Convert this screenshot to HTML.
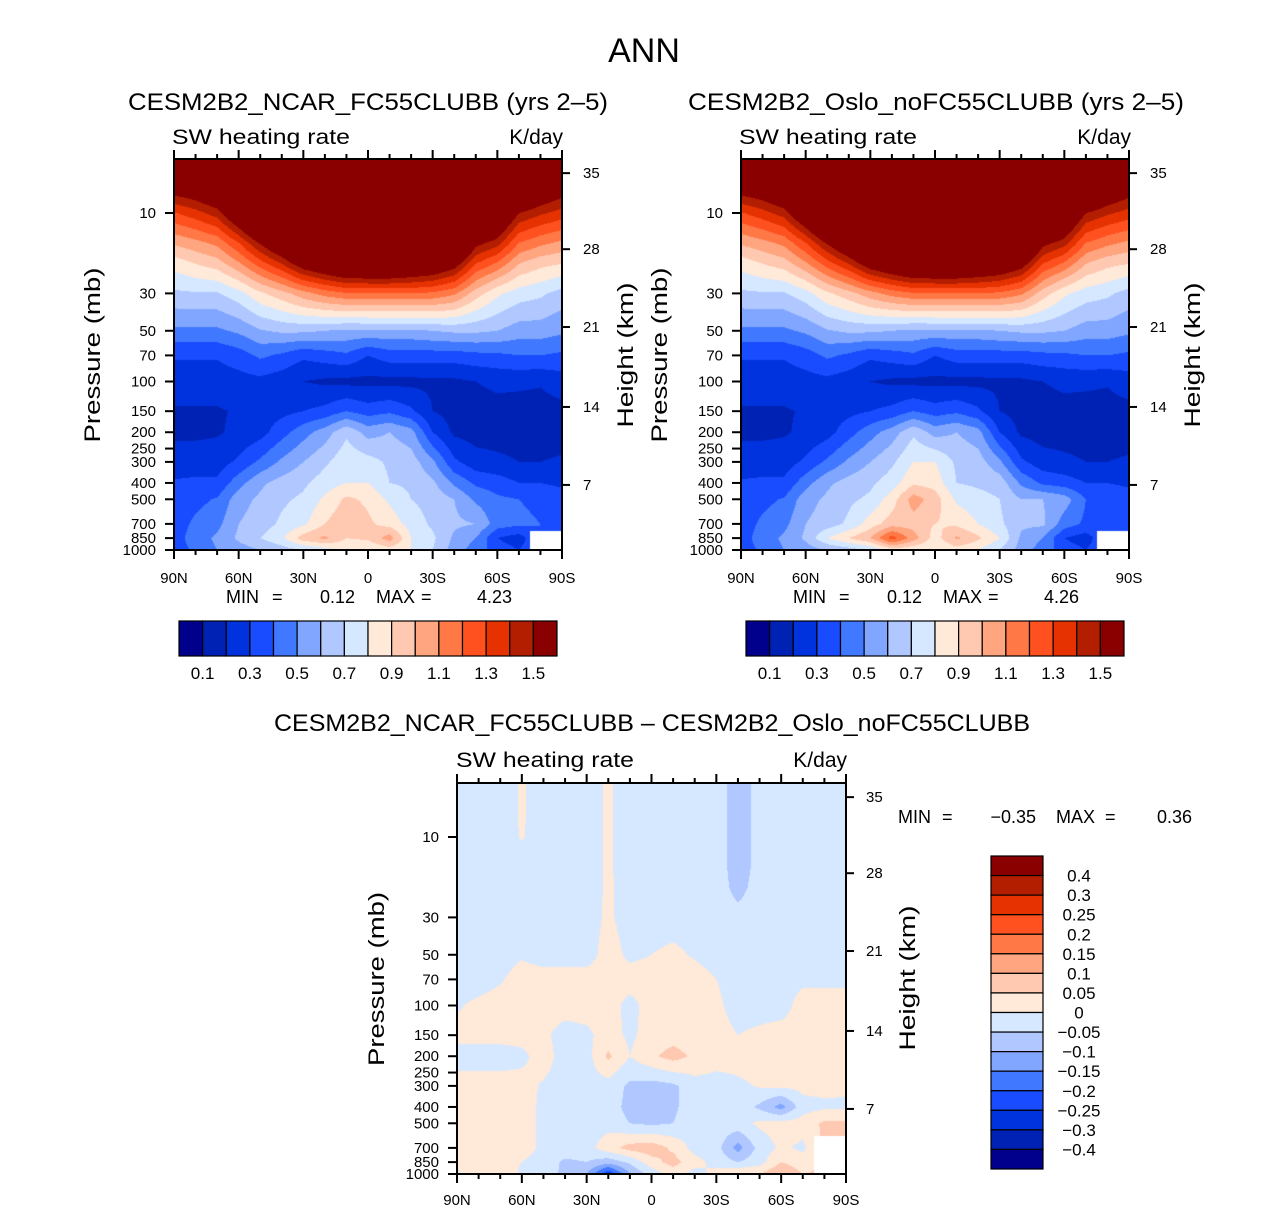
<!DOCTYPE html>
<html><head><meta charset="utf-8"><style>
html,body{margin:0;padding:0;background:#fff;}
#wrap{position:relative;width:1285px;height:1211px;overflow:hidden;}
canvas{position:absolute;}
svg{position:absolute;left:0;top:0;}
text{font-family:"Liberation Sans",sans-serif;fill:#000;}
</style></head><body>
<div id="wrap">
<canvas id="c1" style="left:174px;top:159px" width="388" height="391"></canvas>
<canvas id="c2" style="left:741px;top:159px" width="388" height="391"></canvas>
<canvas id="c3" style="left:457px;top:783px" width="389" height="391"></canvas>
<svg id="s" width="1285" height="1211">
<text x="644" y="62" font-size="34" text-anchor="middle">ANN</text>
<text x="128" y="110" font-size="24" textLength="480" lengthAdjust="spacingAndGlyphs">CESM2B2_NCAR_FC55CLUBB (yrs 2–5)</text>
<text x="172" y="144" font-size="21" textLength="178" lengthAdjust="spacingAndGlyphs">SW heating rate</text>
<text x="563" y="144" font-size="21" text-anchor="end">K/day</text>
<text x="688" y="110" font-size="24" textLength="496" lengthAdjust="spacingAndGlyphs">CESM2B2_Oslo_noFC55CLUBB (yrs 2–5)</text>
<text x="739" y="144" font-size="21" textLength="178" lengthAdjust="spacingAndGlyphs">SW heating rate</text>
<text x="1131" y="144" font-size="21" text-anchor="end">K/day</text>
<text x="274" y="731" font-size="24" textLength="756" lengthAdjust="spacingAndGlyphs">CESM2B2_NCAR_FC55CLUBB – CESM2B2_Oslo_noFC55CLUBB</text>
<text x="456" y="767" font-size="21" textLength="178" lengthAdjust="spacingAndGlyphs">SW heating rate</text>
<text x="847" y="767" font-size="21" text-anchor="end">K/day</text>

<text transform="translate(100,355) rotate(-90)" font-size="22" text-anchor="middle" textLength="175" lengthAdjust="spacingAndGlyphs">Pressure (mb)</text>
<text transform="translate(633,355) rotate(-90)" font-size="22" text-anchor="middle" textLength="145" lengthAdjust="spacingAndGlyphs">Height (km)</text>
<text transform="translate(667,355) rotate(-90)" font-size="22" text-anchor="middle" textLength="175" lengthAdjust="spacingAndGlyphs">Pressure (mb)</text>
<text transform="translate(1200,355) rotate(-90)" font-size="22" text-anchor="middle" textLength="145" lengthAdjust="spacingAndGlyphs">Height (km)</text>
<text transform="translate(384,979) rotate(-90)" font-size="22" text-anchor="middle" textLength="174" lengthAdjust="spacingAndGlyphs">Pressure (mb)</text>
<text transform="translate(915,978) rotate(-90)" font-size="22" text-anchor="middle" textLength="145" lengthAdjust="spacingAndGlyphs">Height (km)</text>

<g font-size="18">
<text x="226" y="603">MIN</text><text x="272" y="603">=</text><text x="355" y="603" text-anchor="end">0.12</text>
<text x="376" y="603">MAX</text><text x="421" y="603">=</text><text x="512" y="603" text-anchor="end">4.23</text></g>
<g font-size="18">
<text x="793" y="603">MIN</text><text x="839" y="603">=</text><text x="922" y="603" text-anchor="end">0.12</text>
<text x="943" y="603">MAX</text><text x="988" y="603">=</text><text x="1079" y="603" text-anchor="end">4.26</text></g>
<g font-size="18">
<text x="898" y="823">MIN</text><text x="942" y="823">=</text><text x="1036" y="823" text-anchor="end">−0.35</text>
<text x="1056" y="823">MAX</text><text x="1105" y="823">=</text><text x="1192" y="823" text-anchor="end">0.36</text></g>
<g id="g"></g>
</svg>
</div>
<script>
const palette = ["#00008c","#0022b4","#0033dd","#1a4cff","#4078ff","#80a6ff","#b0c8ff","#d6e8ff","#ffe9d8","#ffc8b0","#ffa580","#ff7846","#ff5020","#e63200","#b41e00","#8a0000"];
const levelsAbs = [0.1,0.2,0.3,0.4,0.5,0.6,0.7,0.8,0.9,1.0,1.1,1.2,1.3,1.4,1.5];
const levelsDiff = [-0.4,-0.3,-0.25,-0.2,-0.15,-0.1,-0.05,0,0.05,0.1,0.15,0.2,0.25,0.3,0.4];
const absTickLabels = ["0.1","0.3","0.5","0.7","0.9","1.1","1.3","1.5"];
const diffTickLabels = ["0.4","0.3","0.25","0.2","0.15","0.1","0.05","0","−0.05","−0.1","−0.15","−0.2","−0.25","−0.3","−0.4"];
const lats = [90,80,70,60,50,40,30,20,10,0,-10,-20,-30,-40,-50,-60,-70,-80,-90];
const latTicks = [90,60,30,0,-30,-60,-90];
const latTickLabels = ["90N","60N","30N","0","30S","60S","90S"];
const presLevels = [5,7,10,15,20,30,50,70,100,150,200,300,400,500,700,850,1000];
const presTicks = [10,30,50,70,100,150,200,250,300,400,500,700,850,1000];
const heightTickLabels = ["35","28","21","14","7"];
const heightTickPress = [5.8,16.4,47.5,141.6,411];

const ncarByLat = [
[2.4,1.6,1.29,1.02,0.84,0.68,0.48,0.31,0.25,0.19,0.18,0.25,0.31,0.33,0.35,0.35,0.35],
[2.5,1.65,1.36,1.07,0.9,0.69,0.48,0.31,0.25,0.19,0.18,0.25,0.32,0.37,0.42,0.45,0.42],
[2.6,1.75,1.45,1.13,0.95,0.69,0.48,0.31,0.25,0.19,0.19,0.25,0.32,0.41,0.47,0.52,0.5],
[2.9,2.1,1.7,1.3,1.08,0.76,0.52,0.35,0.26,0.21,0.22,0.32,0.46,0.56,0.6,0.62,0.55],
[3.2,2.5,2.0,1.52,1.25,0.88,0.59,0.42,0.27,0.25,0.26,0.42,0.58,0.62,0.65,0.7,0.6],
[3.4,2.7,2.2,1.72,1.4,0.96,0.62,0.38,0.24,0.27,0.36,0.52,0.64,0.68,0.72,0.78,0.65],
[3.7,3.0,2.5,1.95,1.6,1.06,0.62,0.32,0.2,0.3,0.46,0.6,0.68,0.72,0.78,0.95,0.7],
[3.9,3.2,2.7,2.1,1.7,1.14,0.6,0.35,0.18,0.33,0.55,0.68,0.75,0.82,0.9,1.02,0.75],
[4.1,3.4,2.9,2.2,1.8,1.19,0.58,0.38,0.17,0.4,0.68,0.77,0.8,0.92,0.98,0.9,0.82],
[4.2,3.5,3.0,2.3,1.8,1.2,0.58,0.3,0.17,0.35,0.56,0.74,0.8,0.88,0.92,0.92,0.8],
[4.2,3.5,3.0,2.3,1.8,1.2,0.58,0.35,0.17,0.38,0.6,0.68,0.7,0.78,0.86,1.05,0.85],
[4.1,3.4,2.9,2.2,1.75,1.2,0.58,0.35,0.17,0.32,0.54,0.65,0.68,0.7,0.76,0.8,0.8],
[4.0,3.3,2.8,2.1,1.7,1.18,0.6,0.35,0.18,0.2,0.3,0.52,0.62,0.66,0.68,0.72,0.7],
[3.8,3.1,2.6,1.95,1.58,1.12,0.62,0.35,0.18,0.16,0.18,0.32,0.48,0.6,0.62,0.58,0.55],
[3.4,2.7,2.2,1.55,1.3,0.95,0.62,0.37,0.2,0.16,0.16,0.24,0.38,0.48,0.6,0.5,0.45],
[3.0,2.3,1.8,1.45,1.18,0.82,0.6,0.38,0.22,0.17,0.16,0.22,0.35,0.42,0.45,0.3,0.35],
[2.4,1.9,1.5,1.2,1.0,0.75,0.55,0.4,0.22,0.16,0.16,0.2,0.3,0.4,0.42,0.25,0.3],
[2.2,1.7,1.42,1.13,0.93,0.72,0.55,0.4,0.21,0.16,0.16,0.2,0.3,0.38,0.4,null,null],
[2.0,1.6,1.36,1.08,0.9,0.66,0.52,0.38,0.25,0.17,0.17,0.21,0.28,0.35,0.38,null,null]];

const osloByLat = [
[2.4,1.6,1.29,1.02,0.84,0.68,0.48,0.31,0.25,0.19,0.18,0.25,0.31,0.33,0.35,0.35,0.35],
[2.5,1.65,1.36,1.07,0.9,0.69,0.48,0.31,0.25,0.19,0.18,0.25,0.32,0.37,0.42,0.45,0.42],
[2.6,1.75,1.45,1.13,0.95,0.69,0.48,0.31,0.25,0.19,0.19,0.25,0.32,0.41,0.47,0.52,0.5],
[2.9,2.1,1.7,1.3,1.08,0.76,0.52,0.35,0.26,0.21,0.22,0.32,0.46,0.56,0.6,0.62,0.55],
[3.2,2.5,2.0,1.52,1.25,0.88,0.59,0.42,0.27,0.25,0.26,0.42,0.58,0.62,0.65,0.8,0.6],
[3.4,2.7,2.2,1.72,1.4,0.96,0.62,0.38,0.24,0.27,0.36,0.52,0.64,0.68,0.72,0.9,0.65],
[3.7,3.0,2.5,1.95,1.6,1.06,0.62,0.32,0.2,0.3,0.46,0.6,0.68,0.72,0.85,1.0,0.7],
[3.9,3.2,2.7,2.1,1.7,1.14,0.6,0.35,0.18,0.33,0.55,0.68,0.75,0.85,0.95,1.25,0.85],
[4.1,3.4,2.9,2.2,1.8,1.19,0.58,0.38,0.17,0.4,0.68,0.8,0.88,1.05,0.95,1.05,0.82],
[4.2,3.5,3.0,2.3,1.8,1.2,0.58,0.3,0.17,0.35,0.56,0.8,0.86,0.95,0.9,0.85,0.8],
[4.2,3.5,3.0,2.3,1.8,1.2,0.58,0.35,0.17,0.38,0.6,0.68,0.7,0.78,0.88,1.02,0.85],
[4.1,3.4,2.9,2.2,1.75,1.2,0.58,0.35,0.17,0.32,0.54,0.65,0.68,0.74,0.8,0.92,0.8],
[4.0,3.3,2.8,2.1,1.7,1.18,0.6,0.35,0.18,0.2,0.3,0.52,0.66,0.7,0.72,0.8,0.7],
[3.8,3.1,2.6,1.95,1.58,1.12,0.62,0.35,0.18,0.16,0.18,0.32,0.48,0.6,0.62,0.58,0.55],
[3.4,2.7,2.2,1.55,1.3,0.95,0.62,0.37,0.2,0.16,0.16,0.24,0.38,0.6,0.62,0.5,0.45],
[3.0,2.3,1.8,1.45,1.18,0.82,0.6,0.38,0.22,0.17,0.16,0.22,0.35,0.55,0.45,0.3,0.35],
[2.4,1.9,1.5,1.2,1.0,0.75,0.55,0.4,0.22,0.16,0.16,0.2,0.3,0.4,0.38,0.25,0.3],
[2.2,1.7,1.42,1.13,0.93,0.72,0.55,0.4,0.21,0.16,0.16,0.2,0.3,0.38,0.4,null,null],
[2.0,1.6,1.36,1.08,0.9,0.66,0.52,0.38,0.25,0.17,0.17,0.21,0.28,0.35,0.38,null,null]];

const diffByLev = [
[-0.02,-0.02,-0.02,0.005,-0.02,-0.02,-0.02,0.006,-0.02,-0.02,-0.02,-0.02,-0.02,-0.08,-0.03,-0.04,-0.02,-0.02,-0.02],
[-0.02,-0.02,-0.02,0.005,-0.02,-0.02,-0.02,0.006,-0.02,-0.02,-0.02,-0.02,-0.02,-0.08,-0.03,-0.04,-0.02,-0.02,-0.02],
[-0.02,-0.02,-0.02,0.003,-0.02,-0.02,-0.02,0.006,-0.02,-0.02,-0.02,-0.02,-0.02,-0.08,-0.03,-0.02,-0.02,-0.02,-0.02],
[-0.02,-0.02,-0.02,-0.02,-0.02,-0.02,-0.02,0.006,-0.02,-0.02,-0.02,-0.02,-0.02,-0.08,-0.03,-0.02,-0.02,-0.02,-0.02],
[-0.02,-0.02,-0.02,-0.02,-0.02,-0.02,-0.02,0.007,-0.02,-0.02,-0.02,-0.02,-0.02,-0.07,-0.025,-0.02,-0.02,-0.02,-0.02],
[-0.02,-0.02,-0.02,-0.02,-0.02,-0.02,-0.02,0.008,-0.02,-0.02,-0.02,-0.02,-0.02,-0.03,-0.02,-0.02,-0.02,-0.02,-0.02],
[-0.02,-0.02,-0.02,-0.005,-0.02,-0.02,-0.02,0.02,-0.01,0.0,0.01,-0.005,-0.02,-0.02,-0.02,-0.02,-0.02,-0.02,-0.02],
[-0.02,-0.02,-0.005,0.02,0.02,0.02,0.02,0.02,0.02,0.02,0.02,0.02,0.0,-0.02,-0.02,-0.02,-0.01,-0.01,-0.01],
[-0.005,0.01,0.02,0.02,0.02,0.02,0.02,0.02,-0.015,0.02,0.02,0.02,0.01,-0.02,-0.02,-0.02,0.02,0.02,0.02],
[0.015,0.015,0.015,0.015,0.01,-0.02,-0.01,0.02,-0.01,0.02,0.03,0.02,0.02,0.0,0.01,0.02,0.02,0.02,0.02],
[-0.02,-0.02,-0.02,-0.01,0.02,-0.02,-0.02,0.06,0.0,0.04,0.07,0.04,0.02,0.02,0.02,0.02,0.02,0.02,0.02],
[0.02,0.02,0.02,0.015,-0.005,-0.02,-0.02,-0.02,-0.06,-0.07,-0.06,-0.02,-0.02,-0.01,0.005,0.01,0.015,0.015,0.01],
[0.02,0.02,0.02,0.02,-0.01,-0.02,-0.02,-0.02,-0.07,-0.07,-0.06,-0.02,-0.02,-0.02,-0.06,-0.12,-0.02,-0.01,-0.01],
[0.02,0.02,0.02,0.02,-0.01,-0.02,-0.02,-0.02,-0.05,-0.06,-0.05,-0.02,-0.02,-0.02,0.01,0.02,0.02,0.06,0.06],
[0.02,0.02,0.02,0.02,-0.01,-0.02,-0.02,0.03,0.07,0.08,0.04,-0.02,-0.03,-0.12,-0.03,0.01,-0.01,null,null],
[0.01,0.02,0.02,0.0,-0.02,-0.06,-0.05,-0.08,-0.04,0.03,0.07,0.02,-0.02,-0.05,-0.02,0.05,0.02,null,null],
[-0.01,0.05,0.04,-0.01,-0.03,-0.06,-0.1,-0.25,-0.1,-0.03,0.02,-0.02,0.02,0.05,0.05,0.1,0.05,null,null]];

const NS='http://www.w3.org/2000/svg';
const G=document.getElementById('g');
function mk(tag,attrs,parent){const e=document.createElementNS(NS,tag);for(const k in attrs)e.setAttribute(k,attrs[k]);(parent||G).appendChild(e);return e;}

const PXDEC=168.5;
function yScale(p,bottom){return bottom-(3-Math.log10(p))*PXDEC;}
function xScale(lat,left,w){return left+(90-lat)/180*w;}
function colorIdx(v,levels){let k=0;for(const L of levels){if(v>=L)k++;}return k;}

function render(canvasId,left,top,w,h,get,levels){
  const cv=document.getElementById(canvasId),ctx=cv.getContext('2d');
  const img=ctx.createImageData(w,h);const bottom=top+h;
  const lp=presLevels.map(p=>Math.log10(p));
  const rgb=palette.map(c=>[parseInt(c.substr(1,2),16),parseInt(c.substr(3,2),16),parseInt(c.substr(5,2),16)]);
  const nI=lats.length,nJ=presLevels.length;
  function val(i,j){let v=get(i,j);if(v===null){for(let d=1;d<nJ;d++){if(j-d>=0&&get(i,j-d)!==null)return get(i,j-d);}}return v;}
  for(let py=0;py<h;py++){
    const y=top+py+0.5;const logp=3-(bottom-y)/PXDEC;
    let j=0;while(j<nJ-2&&logp>lp[j+1])j++;
    let ty=(logp-lp[j])/(lp[j+1]-lp[j]);ty=Math.max(0,Math.min(1,ty));
    const jn=ty<0.5?j:j+1;
    for(let px=0;px<w;px++){
      const fx=(px+0.5)/w*(nI-1);let i=Math.min(nI-2,Math.floor(fx));const tx=fx-i;
      const inear=tx<0.5?i:i+1;let o=(py*w+px)*4;
      if(get(inear,jn)===null){img.data[o]=255;img.data[o+1]=255;img.data[o+2]=255;img.data[o+3]=255;continue;}
      const v=(1-tx)*(1-ty)*val(i,j)+tx*(1-ty)*val(i+1,j)+(1-tx)*ty*val(i,j+1)+tx*ty*val(i+1,j+1);
      const c=rgb[colorIdx(v,levels)];
      img.data[o]=c[0];img.data[o+1]=c[1];img.data[o+2]=c[2];img.data[o+3]=255;
    }
  }
  ctx.putImageData(img,0,0);
}
render('c1',174,159,388,391,(i,j)=>ncarByLat[i][j],levelsAbs);
render('c2',741,159,388,391,(i,j)=>osloByLat[i][j],levelsAbs);
render('c3',457,783,389,391,(i,j)=>diffByLev[j][i],levelsDiff);

function axes(pfx,left,top,w,h,leftLabelX,rightLabelX,xLabelY){
  const bottom=top+h,right=left+w;
  const ax=mk('g',{});
  
  
  for(let k=0;k<lats.length;k++){
    const x=xScale(lats[k],left,w);const major=latTicks.includes(lats[k]);const L=major?9:5;
    const t1=mk('line',{x1:x,x2:x,y1:top,y2:top-L,stroke:'#000','stroke-width':2},ax);
    
    
    const t2=mk('line',{x1:x,x2:x,y1:bottom,y2:bottom+L,stroke:'#000','stroke-width':2},ax);
    
    
  }
  latTicks.forEach((lat,k)=>{
    const t=mk('text',{x:xScale(lat,left,w),y:xLabelY,'font-size':15,'text-anchor':'middle'},ax);
    t.textContent=latTickLabels[k];
    
    
  });
  presTicks.forEach(p=>{
    const y=yScale(p,bottom);
    const l=mk('line',{x1:left,x2:left-9,y1:y,y2:y,stroke:'#000','stroke-width':2},ax);
    
    
    const t=mk('text',{x:leftLabelX,y:y+5,'font-size':15,'text-anchor':'end'},ax);
    t.textContent=String(p);
    
    
  });
  heightTickPress.forEach((p,k)=>{
    const y=yScale(p,bottom);
    const l=mk('line',{x1:right,x2:right+8,y1:y,y2:y,stroke:'#000','stroke-width':2},ax);
    
    
    const t=mk('text',{x:rightLabelX,y:y+5,'font-size':15},ax);
    t.textContent=heightTickLabels[k];
    
    
  });
  const b=mk('rect',{x:left,y:top,width:w,height:h,fill:'none',stroke:'#000','stroke-width':2},ax);
  
  
}
axes('panel1',174,159,388,391,156,583,583);
axes('panel2',741,159,388,391,723,1150,583);
axes('panel3',457,783,389,391,439,866,1205);

function hbar(pfx,left,top,w,h){
  const g=mk('g',{});
  
  
  const bw=w/palette.length;
  palette.forEach((c,k)=>{
    const r=mk('rect',{x:left+k*bw,y:top,width:bw,height:h,fill:c,stroke:'#000','stroke-width':1.2},g);
    
    
  });
  absTickLabels.forEach((lab,k)=>{
    const t=mk('text',{x:left+(1+2*k)*bw,y:top+h+23,'font-size':17,'text-anchor':'middle'},g);
    t.textContent=lab;
    
    
  });
}
hbar('panel1',179,621,378,35);
hbar('panel2',746,621,378,35);

(function(){
  const left=991,top=856,w=52,h=313;const bh=h/palette.length;
  const g=mk('g',{});
  
  
  palette.slice().reverse().forEach((c,k)=>{
    const r=mk('rect',{x:left,y:top+k*bh,width:w,height:bh,fill:c,stroke:'#000','stroke-width':1.2},g);
    
    
  });
  diffTickLabels.forEach((lab,k)=>{
    const t=mk('text',{x:1079,y:top+(k+1)*bh+6,'font-size':17,'text-anchor':'middle'},g);
    t.textContent=lab;
    
    
  });
})();
</script>
</body></html>
